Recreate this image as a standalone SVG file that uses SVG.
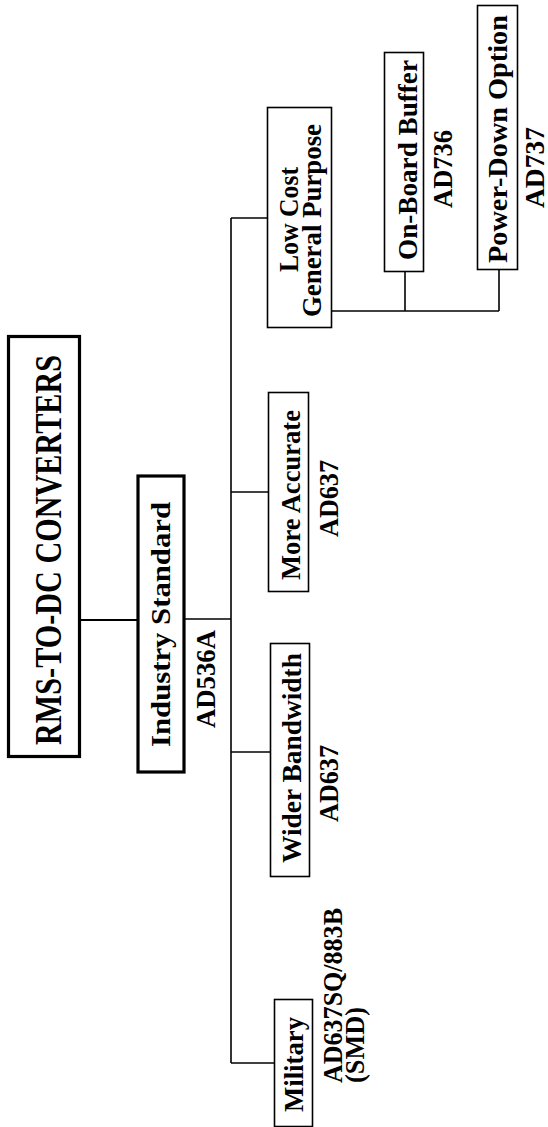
<svg xmlns="http://www.w3.org/2000/svg" width="548" height="1127" viewBox="0 0 548 1127">
<style>
.bg{fill:#fff}
.box{fill:#fff;stroke:#000;stroke-width:1.6}
.thick{fill:#fff;stroke:#000;stroke-width:3.2}
.ln{fill:none;stroke:#000;stroke-width:1.6}
.ln2{fill:none;stroke:#000;stroke-width:2.2}
text{font-family:"Liberation Serif","Times New Roman",serif;font-weight:bold;fill:#000}
.t{font-size:27px}
.big{font-size:38px}
</style>
<rect class="bg" x="0" y="0" width="548" height="1127"/>
<g id="connectors">
<path class="ln2" d="M81 620 H137"/>
<path class="ln" d="M185 619 H231"/>
<path class="ln" d="M231 218 V1063"/>
<path class="ln" d="M231 218 H267"/>
<path class="ln" d="M231 492 H268"/>
<path class="ln" d="M231 752 H270"/>
<path class="ln" d="M231 1063 H274"/>
<path class="ln" d="M332 311 H499"/>
<path class="ln" d="M405 311 V272"/>
<path class="ln" d="M499 311 V270"/>
</g>
<g id="title">
<rect class="thick" x="8.5" y="336.5" width="71" height="420"/>
<text class="big" transform="translate(61,550) rotate(-90)" text-anchor="middle" textLength="390" lengthAdjust="spacingAndGlyphs">RMS-TO-DC CONVERTERS</text>
</g>
<g id="industry-standard">
<rect class="thick" x="138" y="476" width="46" height="296"/>
<text class="t" transform="translate(170,624.5) rotate(-90)" text-anchor="middle" textLength="245" lengthAdjust="spacingAndGlyphs">Industry Standard</text>
<text class="t" transform="translate(215,679) rotate(-90)" text-anchor="middle" textLength="98" lengthAdjust="spacingAndGlyphs">AD536A</text>
</g>
<g id="low-cost">
<rect class="box" x="267.5" y="107.5" width="64" height="220"/>
<text class="t" transform="translate(298,219.5) rotate(-90)" text-anchor="middle" textLength="105" lengthAdjust="spacingAndGlyphs">Low Cost</text>
<text class="t" transform="translate(321,220.5) rotate(-90)" text-anchor="middle" textLength="193" lengthAdjust="spacingAndGlyphs">General Purpose</text>
</g>
<g id="more-accurate">
<rect class="box" x="268.5" y="392.5" width="40" height="199"/>
<text class="t" transform="translate(300,495) rotate(-90)" text-anchor="middle" textLength="170" lengthAdjust="spacingAndGlyphs">More Accurate</text>
<text class="t" transform="translate(338,498.5) rotate(-90)" text-anchor="middle" textLength="77" lengthAdjust="spacingAndGlyphs">AD637</text>
</g>
<g id="wider-bandwidth">
<rect class="box" x="270.5" y="643.5" width="39" height="233"/>
<text class="t" transform="translate(301,758) rotate(-90)" text-anchor="middle" textLength="210" lengthAdjust="spacingAndGlyphs">Wider Bandwidth</text>
<text class="t" transform="translate(338,783.5) rotate(-90)" text-anchor="middle" textLength="77" lengthAdjust="spacingAndGlyphs">AD637</text>
</g>
<g id="military">
<rect class="box" x="274.5" y="999.5" width="38" height="127"/>
<text class="t" transform="translate(303,1064.5) rotate(-90)" text-anchor="middle" textLength="95" lengthAdjust="spacingAndGlyphs">Military</text>
<text class="t" transform="translate(342,1083) rotate(-90)" text-anchor="start" textLength="175" lengthAdjust="spacingAndGlyphs">AD637SQ/883B</text>
<text class="t" transform="translate(364,1083) rotate(-90)" text-anchor="start" textLength="76" lengthAdjust="spacingAndGlyphs">(SMD)</text>
</g>
<g id="on-board-buffer">
<rect class="box" x="384.5" y="52.5" width="39" height="219"/>
<text class="t" transform="translate(417,160) rotate(-90)" text-anchor="middle" textLength="200" lengthAdjust="spacingAndGlyphs">On-Board Buffer</text>
<text class="t" transform="translate(452,169) rotate(-90)" text-anchor="middle" textLength="78" lengthAdjust="spacingAndGlyphs">AD736</text>
</g>
<g id="power-down">
<rect class="box" x="477.5" y="5.5" width="40" height="264"/>
<text class="t" transform="translate(507,139) rotate(-90)" text-anchor="middle" textLength="248" lengthAdjust="spacingAndGlyphs">Power-Down Option</text>
<text class="t" transform="translate(544,167.5) rotate(-90)" text-anchor="middle" textLength="81" lengthAdjust="spacingAndGlyphs">AD737</text>
</g>
</svg>
